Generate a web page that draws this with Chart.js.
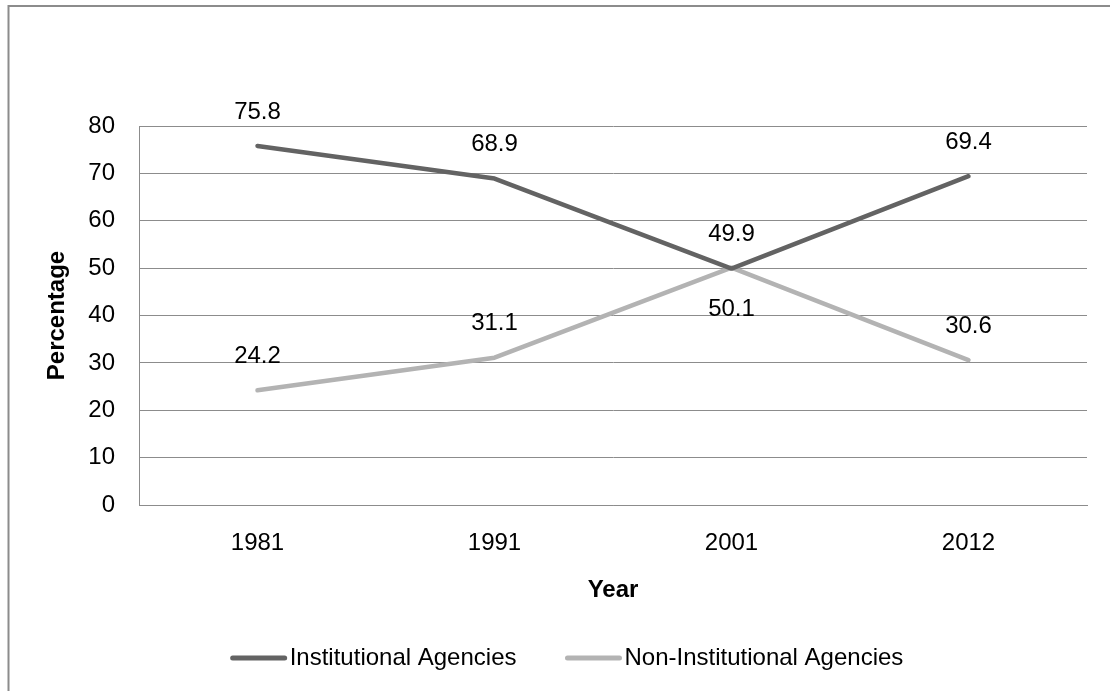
<!DOCTYPE html>
<html>
<head>
<meta charset="utf-8">
<script src="https://cdn.jsdelivr.net/npm/chart.js@4.4.1/dist/chart.umd.min.js"></script>
<style>
  html, body { margin: 0; padding: 0; background: #fff; }
  #wrap { width: 1110px; height: 691px; }
</style>
</head>
<body>
<div id="wrap"><canvas id="lineChart" width="1110" height="691"></canvas></div>
<script>
'use strict';
// chart data
var years = ["1981", "1991", "2001", "2012"];
var institutional = [75.8, 68.9, 49.9, 69.4];
var nonInstitutional = [24.2, 31.1, 50.1, 30.6];
var yTicks = [0, 10, 20, 30, 40, 50, 60, 70, 80];

var FONT = "'Liberation Sans', Arial, sans-serif";
var FSIZE = 24;
var GRID = "#8c8c8c";

// outer frame, cut off at right and bottom like the original
var framePlugin = {
    id: 'frame',
    beforeDraw: function (chart) {
        var ctx = chart.ctx;
        ctx.save();
        ctx.fillStyle = "#fff";
        ctx.fillRect(0, 0, chart.width, chart.height);
        ctx.strokeStyle = "#8c8c8c";
        ctx.lineWidth = 2;
        ctx.strokeRect(8.5, 6, chart.width + 40, chart.height + 40);
        ctx.restore();
    }
};

// value labels above (or below) each point
var valueLabels = {
    id: 'valueLabels',
    afterDatasetsDraw: function (chart) {
        var ctx = chart.ctx;
        ctx.save();
        ctx.font = FSIZE + "px " + FONT;
        ctx.fillStyle = "#000";
        ctx.textAlign = "center";
        ctx.textBaseline = "middle";
        chart.data.datasets.forEach(function (ds, i) {
            var meta = chart.getDatasetMeta(i);
            meta.data.forEach(function (pt, j) {
                var below = ds.labelBelow && ds.labelBelow.indexOf(j) >= 0;
                var y = below ? pt.y + 42 : pt.y - 34;
                ctx.fillText(ds.data[j].toFixed(1), pt.x, y);
            });
        });
        ctx.restore();
    }
};

// legend drawn as a short line + text, like the source
var lineLegend = {
    id: 'lineLegend',
    afterDraw: function (chart) {
        var ctx = chart.ctx;
        var centerX = 567, y = 658, lineLen = 56, gapText = 3, gapItem = 49;
        ctx.save();
        ctx.font = FSIZE + "px " + FONT;
        ctx.textBaseline = "middle";
        var items = chart.data.datasets.map(function (ds) {
            return { label: ds.label, color: ds.borderColor, w: lineLen + gapText + ctx.measureText(ds.label).width };
        });
        var total = items.reduce(function (s, it) { return s + it.w; }, 0) + gapItem * (items.length - 1);
        var x = centerX - total / 2;
        items.forEach(function (it) {
            ctx.strokeStyle = it.color;
            ctx.lineWidth = 5;
            ctx.lineCap = "round";
            ctx.beginPath();
            ctx.moveTo(x + 2, y);
            ctx.lineTo(x + lineLen - 2, y);
            ctx.stroke();
            ctx.fillStyle = "#000";
            ctx.fillText(it.label, x + lineLen + gapText, y);
            x += it.w + gapItem;
        });
        ctx.restore();
    }
};

new Chart("lineChart", {
    type: "line",
    data: {
        labels: years,
        datasets: [{
            label: "Institutional Agencies",
            data: institutional,
            borderColor: "#636363",
            labelBelow: []
        }, {
            label: "Non-Institutional Agencies",
            data: nonInstitutional,
            borderColor: "#b3b3b3",
            labelBelow: [2]
        }]
    },
    options: {
        responsive: false,
        animation: false,
        devicePixelRatio: 1,
        layout: { padding: { left: 0, top: 126, right: 23, bottom: 86 } },
        elements: {
            line: { borderWidth: 4.5, tension: 0, borderCapStyle: "round", borderJoinStyle: "round", fill: false },
            point: { radius: 0, hoverRadius: 0 }
        },
        plugins: {
            legend: { display: false },
            tooltip: { enabled: false }
        },
        scales: {
            x: {
                offset: true,
                grid: { display: false, drawTicks: false },
                border: { display: true, color: GRID, width: 1 },
                ticks: { color: "#000", padding: 24, font: { family: FONT, size: FSIZE } },
                title: { display: true, text: "Year", color: "#000", padding: { top: 0, bottom: 0 },
                         font: { family: FONT, size: FSIZE, weight: "bold" } },
                afterFit: function (scale) { scale.height = 100; }
            },
            y: {
                min: 0,
                max: 80,
                afterBuildTicks: function (scale) {
                    scale.ticks = yTicks.map(function (v) { return { value: v }; });
                },
                grid: { color: GRID, lineWidth: 1, drawTicks: false },
                border: { display: true, color: GRID, width: 1 },
                ticks: { color: "#000", padding: 24, font: { family: FONT, size: FSIZE } },
                title: { display: true, text: "Percentage", color: "#000", padding: { top: 43, bottom: 0 },
                         font: { family: FONT, size: FSIZE, weight: "bold" } },
                afterFit: function (scale) { scale.width = 139; }
            }
        }
    },
    plugins: [framePlugin, valueLabels, lineLegend]
});
</script>
</body>
</html>
